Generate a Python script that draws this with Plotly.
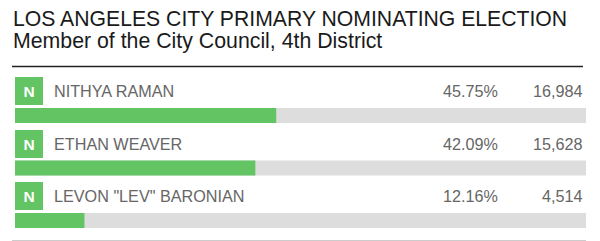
import plotly.graph_objects as go

title = "LOS ANGELES CITY PRIMARY NOMINATING ELECTION"
subtitle = "Member of the City Council, 4th District"
candidates = ["NITHYA RAMAN", "ETHAN WEAVER", 'LEVON "LEV" BARONIAN']
parties = ["N", "N", "N"]
percents = [45.75, 42.09, 12.16]
votes = [16984, 15628, 4514]

GREEN = "#62C462"
GRAY_BAR = "#DDDDDD"
W, H = 600, 241

fig = go.Figure()
fig.add_trace(go.Bar(
    y=candidates, x=[100] * len(candidates), orientation="h",
    marker=dict(color=GRAY_BAR, line=dict(width=0)), width=15 / 52.5,
    hoverinfo="skip", showlegend=False))
fig.add_trace(go.Bar(
    y=candidates, x=percents, orientation="h",
    marker=dict(color=GREEN, line=dict(width=0)), width=15 / 52.5,
    hoverinfo="skip", showlegend=False))

annotations = [
    dict(text=title, xref="paper", yref="paper", x=11 / W, y=1 - 19 / H,
         xanchor="left", yanchor="middle", showarrow=False,
         font=dict(family="Liberation Sans, Arial", size=21.2, color="#1a1a1a")),
    dict(text=subtitle, xref="paper", yref="paper", x=11 / W, y=1 - 41 / H,
         xanchor="left", yanchor="middle", showarrow=False,
         font=dict(family="Liberation Sans, Arial", size=21.3, color="#1a1a1a")),
]
for name, p, pct, v in zip(candidates, parties, percents, votes):
    annotations.append(dict(
        text="<b>" + p + "</b>", xref="paper", yref="y", x=15 / W, y=name,
        xanchor="left", yanchor="middle", yshift=24.5, showarrow=False,
        bgcolor=GREEN, width=28, height=28, borderpad=0, borderwidth=0,
        align="center", valign="middle",
        font=dict(family="Liberation Sans, Arial", size=15.5, color="white")))
    annotations.append(dict(
        text=name, xref="paper", yref="y", x=52 / W, y=name,
        xanchor="left", yanchor="middle", yshift=24.5, showarrow=False,
        font=dict(family="Liberation Sans, Arial", size=16.2, color="#666666")))
    annotations.append(dict(
        text=f"{pct:.2f}%", xref="paper", yref="y", x=500 / W, y=name,
        xanchor="right", yanchor="middle", yshift=24.5, showarrow=False,
        font=dict(family="Liberation Sans, Arial", size=16.2, color="#666666")))
    annotations.append(dict(
        text=f"{v:,}", xref="paper", yref="y", x=585 / W, y=name,
        xanchor="right", yanchor="middle", yshift=24.5, showarrow=False,
        font=dict(family="Liberation Sans, Arial", size=16.2, color="#666666")))

shapes = [
    dict(type="line", xref="paper", yref="paper", x0=12 / W, x1=583 / W,
         y0=1 - 66.5 / H, y1=1 - 66.5 / H, line=dict(color="#222222", width=1.5)),
    dict(type="line", xref="paper", yref="paper", x0=12 / W, x1=586 / W,
         y0=1 - 240.5 / H, y1=1 - 240.5 / H, line=dict(color="#cccccc", width=1)),
]

fig.update_layout(
    width=W, height=H, margin=dict(l=0, r=0, t=0, b=0),
    paper_bgcolor="white", plot_bgcolor="white", barmode="overlay",
    xaxis=dict(domain=[15 / W, 586 / W], range=[0, 100], visible=False, fixedrange=True),
    yaxis=dict(type="category", categoryarray=candidates, categoryorder="array",
               range=[(241 - 115.5) / 52.5, -115.5 / 52.5], visible=False, fixedrange=True),
    annotations=annotations, shapes=shapes,
)

fig.write_html("out.html", config={"displayModeBar": False})
